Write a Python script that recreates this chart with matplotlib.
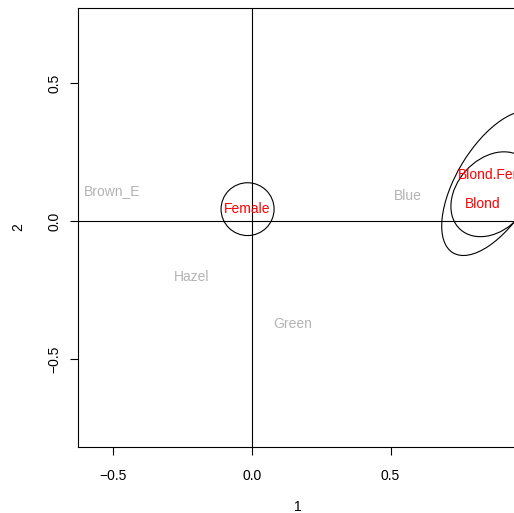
import matplotlib
matplotlib.use("Agg")
import matplotlib.pyplot as plt
from matplotlib.patches import Ellipse, Circle

plt.rcParams['font.family'] = ['Liberation Sans', 'DejaVu Sans']

# column points (grey) and row points (red)
col_labels = ['Brown_E', 'Blue', 'Hazel', 'Green']
col_x = [-0.505, 0.563, -0.217, 0.148]
col_y = [0.109, 0.091, -0.203, -0.373]

row_labels = ['Female', 'Blond.Female', 'Blond']
row_x = [-0.016, 0.899, 0.834]
row_y = [0.043, 0.167, 0.062]

# confidence regions: centre x, centre y, width, height, angle
ell_cx = [0.8768, 0.8669]
ell_cy = [0.1372, 0.0970]
ell_w = [0.2758, 0.2555]
ell_h = [0.5887, 0.3437]
ell_ang = [149.03, 138.13]
female_r = 0.0957

ticks = [-0.5, 0.0, 0.5]
tick_labels = ['\u22120.5', '0.0', '0.5']

fig = plt.figure(figsize=(5.14, 5.13), dpi=100)
ax = fig.add_axes([78/514, 66/513, 440/514, 439/513])
ax.set_xlim(-0.628, 0.96)
ax.set_ylim(-0.819, 0.772)

ax.axhline(0, color='black', lw=0.8)
ax.axvline(0, color='black', lw=0.8)

ax.add_patch(Circle((row_x[0], row_y[0]), female_r, fill=False, color='black', lw=0.8))
for i in range(len(ell_cx)):
    ax.add_patch(Ellipse((ell_cx[i], ell_cy[i]), ell_w[i], ell_h[i], angle=ell_ang[i],
                         fill=False, color='black', lw=0.8))

for lab, x, y in zip(col_labels, col_x, col_y):
    ax.text(x, y, lab, color='#b3b3b3', fontsize=10, ha='center', va='center')
for lab, x, y in zip(row_labels, row_x, row_y):
    ax.text(x, y, lab, color='#ff0000', fontsize=10, ha='center', va='center')

ax.set_xticks(ticks)
ax.set_xticklabels(tick_labels)
ax.set_yticks(ticks)
ax.set_yticklabels(tick_labels, rotation=90, va='center')
ax.tick_params(length=5.8, width=0.8, labelsize=10, pad=6)
ax.tick_params(axis='x', pad=10)
ax.set_xlabel('1', fontsize=10, labelpad=12.5)
ax.set_ylabel('2', fontsize=10, labelpad=16)
for s in ax.spines.values():
    s.set_linewidth(0.8)

fig.savefig("out.png", dpi=100)
